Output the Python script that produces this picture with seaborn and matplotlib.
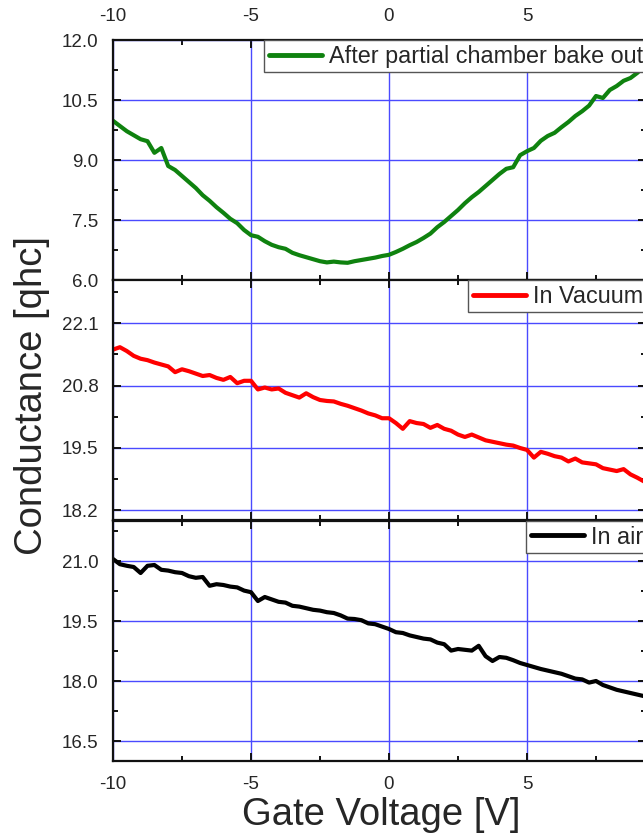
import matplotlib
matplotlib.use("Agg")
import matplotlib.pyplot as plt
from matplotlib.ticker import MultipleLocator, FixedLocator
import seaborn as sns
import pandas as pd

gate_voltage = [
    -10.0, -9.75, -9.5, -9.25, -9.0, -8.75, -8.5, -8.25, -8.0, -7.75,
    -7.5, -7.25, -7.0, -6.75, -6.5, -6.25, -6.0, -5.75, -5.5, -5.25,
    -5.0, -4.75, -4.5, -4.25, -4.0, -3.75, -3.5, -3.25, -3.0, -2.75,
    -2.5, -2.25, -2.0, -1.75, -1.5, -1.25, -1.0, -0.75, -0.5, -0.25,
    0.0, 0.25, 0.5, 0.75, 1.0, 1.25, 1.5, 1.75, 2.0, 2.25,
    2.5, 2.75, 3.0, 3.25, 3.5, 3.75, 4.0, 4.25, 4.5, 4.75,
    5.0, 5.25, 5.5, 5.75, 6.0, 6.25, 6.5, 6.75, 7.0, 7.25,
    7.5, 7.75, 8.0, 8.25, 8.5, 8.75, 9.0, 9.25, 9.5,
]

after_bake = [
    9.98, 9.85, 9.72, 9.62, 9.52, 9.47, 9.18, 9.30, 8.85, 8.75,
    8.60, 8.45, 8.30, 8.12, 7.98, 7.82, 7.68, 7.53, 7.42, 7.25,
    7.12, 7.08, 6.97, 6.88, 6.82, 6.78, 6.68, 6.62, 6.57, 6.52,
    6.47, 6.44, 6.46, 6.44, 6.43, 6.47, 6.50, 6.53, 6.56, 6.60,
    6.63, 6.70, 6.78, 6.87, 6.95, 7.05, 7.16, 7.32, 7.45, 7.60,
    7.75, 7.92, 8.07, 8.20, 8.35, 8.50, 8.65, 8.78, 8.82, 9.12,
    9.22, 9.30, 9.48, 9.60, 9.68, 9.82, 9.95, 10.10, 10.22, 10.36,
    10.60, 10.55, 10.75, 10.85, 10.98, 11.05, 11.18, 11.35, 11.50,
]

in_vacuum = [
    21.55, 21.60, 21.52, 21.42, 21.36, 21.33, 21.28, 21.24, 21.20, 21.08,
    21.14, 21.10, 21.05, 21.00, 21.02, 20.96, 20.92, 20.98, 20.85, 20.90,
    20.90, 20.72, 20.76, 20.72, 20.74, 20.65, 20.60, 20.55, 20.64, 20.56,
    20.50, 20.48, 20.47, 20.42, 20.38, 20.33, 20.28, 20.22, 20.18, 20.12,
    20.12, 20.02, 19.90, 20.06, 20.02, 20.00, 19.92, 19.98, 19.90, 19.86,
    19.78, 19.73, 19.78, 19.72, 19.66, 19.63, 19.60, 19.57, 19.55, 19.50,
    19.46, 19.30, 19.42, 19.38, 19.33, 19.30, 19.22, 19.28, 19.20, 19.18,
    19.16, 19.08, 19.05, 19.02, 19.06, 18.95, 18.88, 18.80, 18.76,
]

in_air = [
    21.05, 20.92, 20.88, 20.85, 20.70, 20.88, 20.90, 20.78, 20.76, 20.72,
    20.70, 20.62, 20.58, 20.60, 20.38, 20.42, 20.40, 20.36, 20.34, 20.26,
    20.22, 20.00, 20.10, 20.04, 19.98, 19.96, 19.88, 19.86, 19.82, 19.78,
    19.76, 19.72, 19.70, 19.64, 19.56, 19.55, 19.52, 19.44, 19.42, 19.36,
    19.30, 19.22, 19.20, 19.14, 19.10, 19.06, 19.04, 18.96, 18.92, 18.76,
    18.80, 18.78, 18.76, 18.88, 18.62, 18.50, 18.60, 18.58, 18.52, 18.45,
    18.40, 18.35, 18.30, 18.26, 18.22, 18.18, 18.12, 18.06, 18.04, 17.96,
    18.00, 17.90, 17.84, 17.78, 17.74, 17.70, 17.66, 17.62, 17.60,
]

series_labels = ["After partial chamber bake out", "In Vacuum", "In air"]
series_colors = ["#0f820f", "#ff0000", "#000000"]
y_ranges = [(6.0, 12.0), (18.0, 23.0), (16.0, 22.0)]
y_major = [[6.0, 7.5, 9.0, 10.5, 12.0], [18.2, 19.5, 20.8, 22.1], [16.5, 18.0, 19.5, 21.0]]
y_minor = [[6.75, 8.25, 9.75, 11.25], [18.85, 20.15, 21.45, 22.75], [17.25, 18.75, 20.25, 21.75]]
y_ticklabels = [["6.0", "7.5", "9.0", "10.5", "12.0"], ["18.2", "19.5", "20.8", "22.1"],
                ["16.5", "18.0", "19.5", "21.0"]]
x_ticks = [-10, -5, 0, 5]
x_ticklabels = ["-10", "-5", "0", "5"]

sns.set_style("ticks")
plt.rcParams["font.family"] = ["Liberation Sans", "DejaVu Sans"]

fig = plt.figure(figsize=(6.43, 8.38), dpi=100)
W, H = 643.0, 838.0
left_px, right_px = 113.0, 646.0
panel_tops = [40.0, 280.0, 521.0]
panel_h = 240.0
xmin, xmax = -10.0, (right_px - 389.0) / 27.6

data = pd.DataFrame({"V": gate_voltage, "g0": after_bake, "g1": in_vacuum, "g2": in_air})

axes = []
for i in range(3):
    top = panel_tops[i]
    ax = fig.add_axes([left_px / W, (H - top - panel_h) / H, (right_px - left_px) / W, panel_h / H])
    axes.append(ax)
    sns.lineplot(data=data, x="V", y=f"g{i}", ax=ax, color=series_colors[i], lw=3.0,
                 label=series_labels[i], sort=False, estimator=None)
    ax.set_xlim(xmin, xmax)
    ax.set_ylim(*y_ranges[i])
    ax.yaxis.set_major_locator(FixedLocator(y_major[i]))
    ax.set_yticklabels(y_ticklabels[i])
    ax.yaxis.set_minor_locator(FixedLocator(y_minor[i]))
    ax.xaxis.set_major_locator(FixedLocator(x_ticks))
    ax.set_xticklabels(x_ticklabels)
    ax.xaxis.set_minor_locator(MultipleLocator(2.5))
    ax.grid(True, which="major", color="#4a4aff", lw=1.0)
    ax.set_axisbelow(True)
    for s in ax.spines.values():
        s.set_linewidth(1.6)
        s.set_color("#111111")
        s.set_visible(True)
    ax.tick_params(which="both", direction="in", top=True, right=True, bottom=True, left=True,
                   width=1.4, color="#111111", labelsize=13.5, pad=10.5)
    ax.tick_params(which="major", length=6)
    ax.tick_params(which="minor", length=3.5)
    ax.tick_params(axis="x", labelbottom=(i == 2), labeltop=(i == 0))
    ax.set_xlabel("")
    ax.set_ylabel("")
    leg = ax.legend(loc="upper right", bbox_to_anchor=(1.004, 1.0), borderaxespad=0.0,
                    fontsize=16.8, handlelength=2.3, handletextpad=0.3, borderpad=0.2,
                    fancybox=False, framealpha=1.0, edgecolor="#555555")
    leg.get_frame().set_linewidth(1.0)
    for line in leg.get_lines():
        line.set_linewidth(3.5)

fig.text(32 / W, 1 - 395 / H, "Conductance [qhc]", rotation=90, ha="center", va="center",
         fontsize=27.5)
fig.text(381 / W, 1 - 815 / H, "Gate Voltage [V]", ha="center", va="center", fontsize=27.5)

fig.savefig("out.png", dpi=100)
